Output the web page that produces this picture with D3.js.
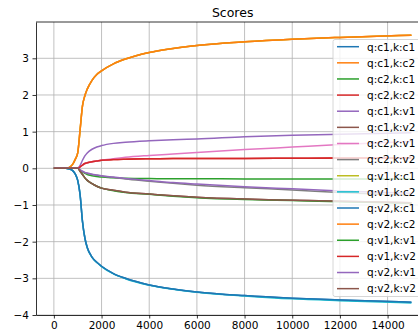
<!DOCTYPE html>
<html>
<head>
<meta charset="utf-8">
<script src="https://cdn.jsdelivr.net/npm/d3@7"></script>
<style>
  body { margin: 0; background: #fff; }
  text { font-family: "DejaVu Sans", sans-serif; }
</style>
</head>
<body>
<svg id="chart"></svg>
<script>
// size of the picture
var width = 418,
    height = 335;

// training steps where the scores were read
var steps = [0, 500, 600, 700, 800, 900, 1000, 1100, 1200, 1300, 1400, 1600, 1800, 2000, 2500, 3000, 4000, 5000, 6000, 8000, 10000, 12000, 15000];

// series names, in plot order
var labels = ["q:c1,k:c1", "q:c1,k:c2", "q:c2,k:c1", "q:c2,k:c2", "q:c1,k:v1", "q:c1,k:v2",
    "q:c2,k:v1", "q:c2,k:v2", "q:v1,k:c1", "q:v1,k:c2", "q:v2,k:c1", "q:v2,k:c2",
    "q:v1,k:v1", "q:v1,k:v2", "q:v2,k:v1", "q:v2,k:v2"];

// matplotlib default colour cycle
var colors = ["#1f77b4", "#ff7f0e", "#2ca02c", "#d62728", "#9467bd", "#8c564b",
    "#e377c2", "#7f7f7f", "#bcbd22", "#17becf", "#1f77b4", "#ff7f0e",
    "#2ca02c", "#d62728", "#9467bd", "#8c564b"];

// score values, one array per series (same order as labels)
var qc1kc1 = [0, 0, -0.01, -0.03, -0.07, -0.16, -0.33, -0.72, -1.45, -1.9, -2.16, -2.42, -2.56, -2.67, -2.87, -3.0, -3.18, -3.29, -3.37, -3.47, -3.54, -3.59, -3.65];
var qc1kc2 = [0, 0, 0.01, 0.05, 0.12, 0.25, 0.42, 1.05, 1.7, 1.98, 2.16, 2.4, 2.56, 2.66, 2.85, 2.98, 3.16, 3.27, 3.35, 3.45, 3.52, 3.57, 3.63];
var qc2kc1 = [0, 0, 0, 0, 0, 0, 0, -0.05, -0.1, -0.14, -0.17, -0.2, -0.22, -0.24, -0.26, -0.27, -0.28, -0.285, -0.285, -0.29, -0.29, -0.29, -0.29];
var qc2kc2 = [0, 0, 0, 0, 0, 0, 0, 0.04, 0.09, 0.13, 0.15, 0.18, 0.2, 0.22, 0.24, 0.25, 0.26, 0.265, 0.27, 0.27, 0.275, 0.28, 0.28];
var qc1kv1 = [0, 0, 0, 0, 0, 0, 0, 0.08, 0.22, 0.34, 0.42, 0.52, 0.58, 0.62, 0.68, 0.71, 0.75, 0.78, 0.8, 0.86, 0.9, 0.93, 0.97];
var qc1kv2 = [0, 0, 0, 0, 0, 0, 0, -0.08, -0.17, -0.26, -0.33, -0.42, -0.49, -0.54, -0.6, -0.65, -0.7, -0.75, -0.79, -0.84, -0.87, -0.9, -0.94];
var qc2kv1 = [0, 0, 0, 0, 0, 0, 0, 0.04, 0.09, 0.13, 0.15, 0.18, 0.2, 0.22, 0.26, 0.3, 0.35, 0.39, 0.43, 0.51, 0.58, 0.65, 0.73];
var qc2kv2 = [0, 0, 0, 0, 0, 0, 0, -0.04, -0.09, -0.12, -0.14, -0.17, -0.19, -0.21, -0.25, -0.29, -0.35, -0.41, -0.46, -0.53, -0.59, -0.66, -0.74];
var qv1kc1 = [0, 0, 0.01, 0.05, 0.12, 0.25, 0.42, 1.05, 1.7, 1.98, 2.16, 2.4, 2.56, 2.66, 2.85, 2.98, 3.16, 3.27, 3.35, 3.45, 3.52, 3.57, 3.63];
var qv1kc2 = [0, 0, -0.01, -0.03, -0.07, -0.16, -0.33, -0.72, -1.45, -1.9, -2.17, -2.43, -2.57, -2.68, -2.88, -3.01, -3.19, -3.3, -3.38, -3.48, -3.56, -3.61, -3.67];
var qv2kc1 = [0, 0, -0.01, -0.03, -0.07, -0.16, -0.33, -0.72, -1.45, -1.9, -2.16, -2.42, -2.56, -2.67, -2.87, -3.0, -3.18, -3.29, -3.37, -3.47, -3.54, -3.59, -3.65];
var qv2kc2 = [0, 0, 0.01, 0.05, 0.12, 0.25, 0.42, 1.05, 1.7, 1.98, 2.16, 2.4, 2.56, 2.66, 2.85, 2.98, 3.16, 3.27, 3.35, 3.45, 3.52, 3.57, 3.63];
var qv1kv1 = [0, 0, 0, 0, 0, 0, 0, -0.08, -0.17, -0.26, -0.33, -0.42, -0.49, -0.54, -0.61, -0.66, -0.71, -0.76, -0.8, -0.85, -0.88, -0.91, -0.95];
var qv1kv2 = [0, 0, 0, 0, 0, 0, 0, 0.04, 0.09, 0.13, 0.15, 0.18, 0.2, 0.22, 0.24, 0.25, 0.26, 0.265, 0.27, 0.27, 0.275, 0.28, 0.28];
var qv2kv1 = [0, 0, 0, 0, 0, 0, 0, -0.04, -0.08, -0.11, -0.13, -0.16, -0.18, -0.2, -0.24, -0.28, -0.33, -0.39, -0.43, -0.5, -0.56, -0.62, -0.68];
var qv2kv2 = [0, 0, 0, 0, 0, 0, 0, -0.08, -0.17, -0.26, -0.33, -0.42, -0.49, -0.54, -0.6, -0.65, -0.7, -0.75, -0.79, -0.84, -0.87, -0.9, -0.94];

var series = [qc1kc1, qc1kc2, qc2kc1, qc2kc2, qc1kv1, qc1kv2, qc2kv1, qc2kv2,
    qv1kc1, qv1kc2, qv2kc1, qv2kc2, qv1kv1, qv1kv2, qv2kv1, qv2kv2];

// tick labels
var xTicks = [0, 2000, 4000, 6000, 8000, 10000, 12000, 14000];
var yTicks = [-4, -3, -2, -1, 0, 1, 2, 3];

// plot area (right side runs off the picture like the original)
var plotLeft = 36, plotTop = 22, plotRight = 429.3, plotBottom = 315;

var svg = d3.select("#chart")
    .attr("width", width)
    .attr("height", height);

var x = d3.scaleLinear().domain([-750, 15750]).range([plotLeft, plotRight]);
var y = d3.scaleLinear().domain([-4.0, 3.99]).range([plotBottom, plotTop]);

//grid lines
svg.append("g").selectAll("line")
    .data(xTicks)
    .enter().append("line")
    .attr("x1", d => x(d)).attr("x2", d => x(d))
    .attr("y1", plotTop).attr("y2", plotBottom)
    .style("stroke", "#b0b0b0").style("stroke-width", 0.8);
svg.append("g").selectAll("line")
    .data(yTicks)
    .enter().append("line")
    .attr("x1", plotLeft).attr("x2", plotRight)
    .attr("y1", d => y(d)).attr("y2", d => y(d))
    .style("stroke", "#b0b0b0").style("stroke-width", 0.8);

// lines
var line = d3.line()
    .x(function (d, i) { return x(steps[i]); })
    .y(function (d) { return y(d); })
    .curve(d3.curveMonotoneX);

svg.append("g").selectAll("path")
    .data(series)
    .enter().append("path")
    .attr("d", line)
    .style("fill", "none")
    .style("stroke", (d, i) => colors[i])
    .style("stroke-width", 1.5);

// axes
var xAxis = svg.append("g")
    .attr("transform", "translate(0," + plotBottom + ")")
    .call(d3.axisBottom(x).tickValues(xTicks).tickFormat(d3.format("d")).tickSize(3.5).tickPadding(3.5).tickSizeOuter(0));
var yAxis = svg.append("g")
    .attr("transform", "translate(" + plotLeft + ",0)")
    .call(d3.axisLeft(y).tickValues(yTicks).tickFormat(d => d < 0 ? "\u2212" + (-d) : d).tickSize(3.5).tickPadding(3.5).tickSizeOuter(0));

[xAxis, yAxis].forEach(function (a) {
    a.selectAll("text").style("font-size", "10.5px").style("fill", "#000").style("font-family", "DejaVu Sans");
    a.selectAll("line").style("stroke", "#000").style("stroke-width", 0.8);
    a.select(".domain").style("stroke", "#000").style("stroke-width", 0.8);
});

// top and right spines
svg.append("line").attr("x1", plotLeft).attr("x2", plotRight).attr("y1", plotTop).attr("y2", plotTop)
    .style("stroke", "#000").style("stroke-width", 0.8);
svg.append("line").attr("x1", plotRight).attr("x2", plotRight).attr("y1", plotTop).attr("y2", plotBottom)
    .style("stroke", "#000").style("stroke-width", 0.8);

// title
svg.append("text")
    .attr("x", (plotLeft + plotRight) / 2)
    .attr("y", 17)
    .attr("text-anchor", "middle")
    .style("font-size", "12.5px")
    .text("Scores");

// legend
var legend = svg.append("g")
    .attr("transform", "translate(333,39.5)");

legend.append("rect")
    .attr("width", 100)
    .attr("height", 257)
    .attr("rx", 2)
    .style("fill", "#fff")
    .style("fill-opacity", 0.8)
    .style("stroke", "#cccccc")
    .style("stroke-width", 0.8);

var rows = legend.selectAll("g.row")
    .data(labels)
    .enter().append("g")
    .attr("class", "row")
    .attr("transform", (d, i) => "translate(0," + (7.2 + i * 16.13) + ")");

rows.append("line")
    .attr("x1", 4).attr("x2", 26)
    .style("stroke", (d, i) => colors[i])
    .style("stroke-width", 1.5);

rows.append("text")
    .attr("x", 34)
    .attr("y", 3.8)
    .style("font-size", "10.5px")
    .text(d => d);
</script>
</body>
</html>
